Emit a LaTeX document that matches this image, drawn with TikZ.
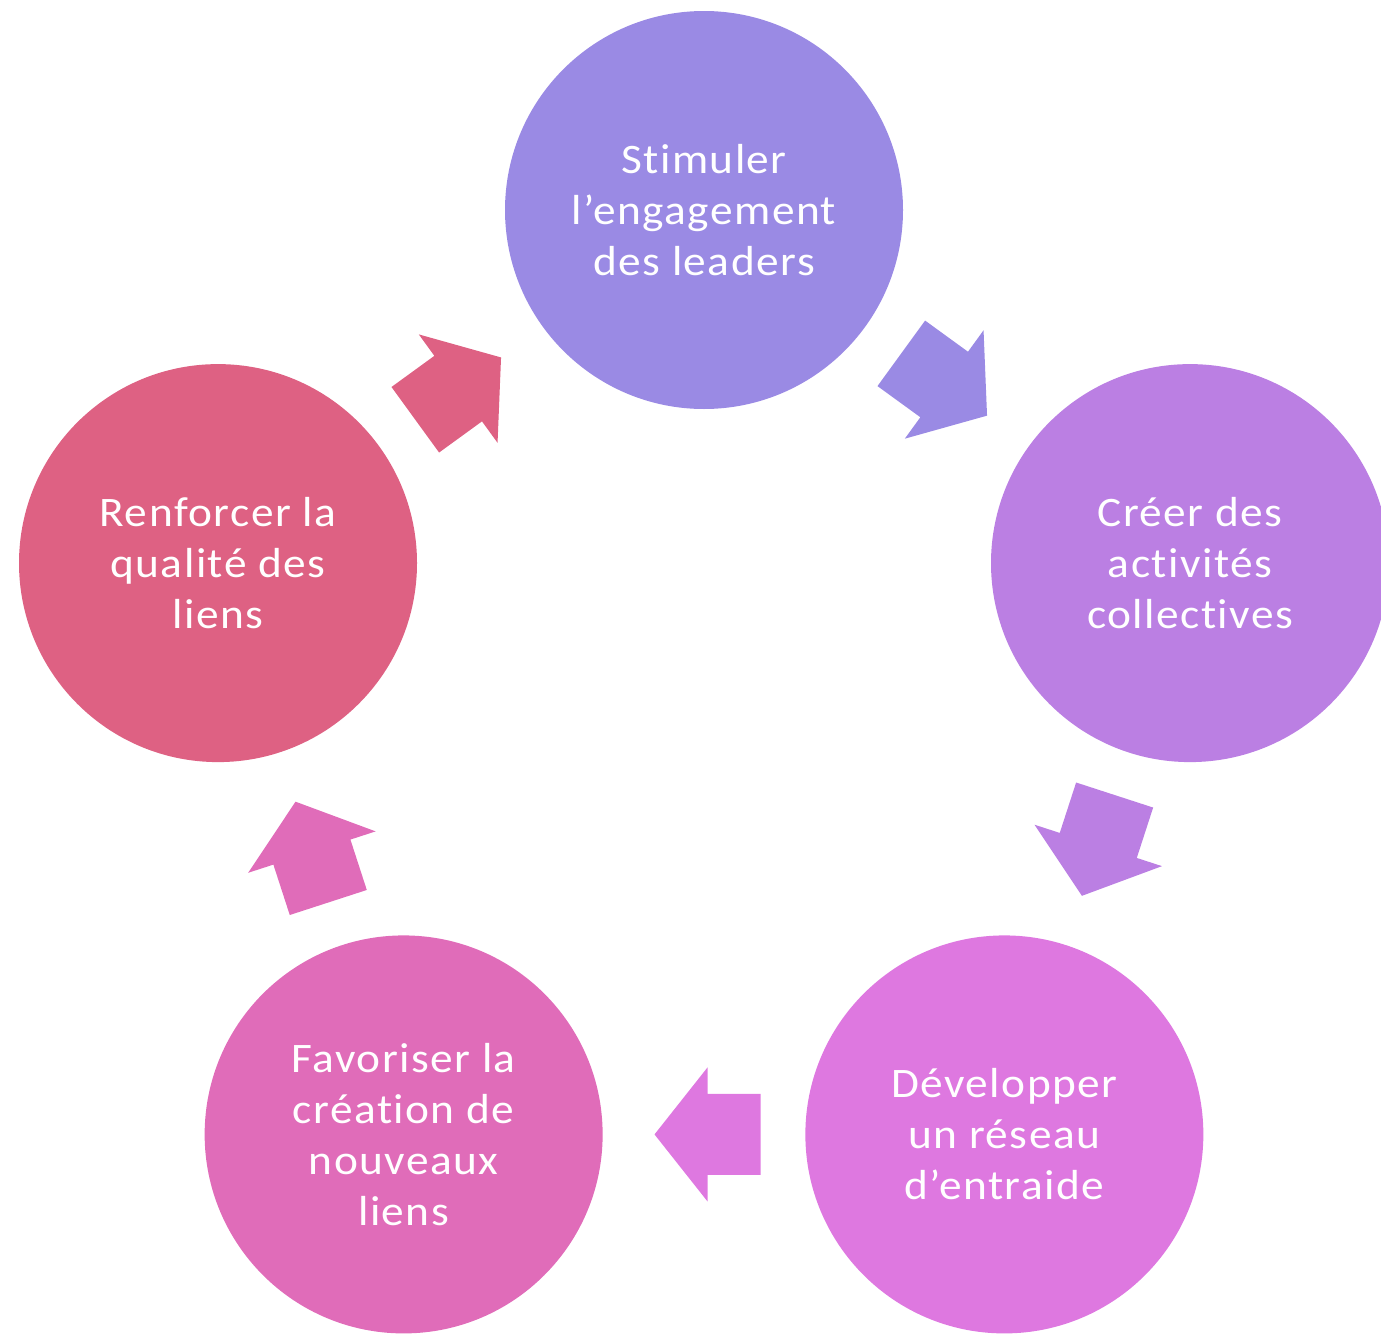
\documentclass[tikz,border=0pt]{standalone}
\usepackage{fontspec}
\setmainfont{Carlito}[Ligatures={NoCommon},LetterSpace=3.5,FakeStretch=1.08]
\usetikzlibrary{positioning,calc}
\definecolor{Lavande}{HTML}{9A8AE4}
\definecolor{Mauve}{HTML}{BB7FE3}
\definecolor{Orchidee}{HTML}{DE78E0}
\definecolor{Fuchsia}{HTML}{E06CB9}
\definecolor{Framboise}{HTML}{DE6183}
\tikzstyle{etape}=[circle,minimum size=398pt,inner sep=0pt,text=white,align=center,font=\fontsize{42}{51}\selectfont]
\tikzset{fleche/.pic={\fill[#1] (-56.5,-40.5) -- (-3.5,-40.5) -- (-3.5,-67) -- (49.5,0) -- (-3.5,67) -- (-3.5,40.5) -- (-56.5,40.5) -- cycle;}}

\begin{document}
\begin{tikzpicture}[x=1pt,y=1pt]
\useasboundingbox (0,0) rectangle (1381,-1333);
\coordinate (O) at (704,-721);
\node[etape,fill=Lavande] (S) at ($(O)+(90:511)$) {Stimuler\\l’engagement\\des leaders};
\node[etape,fill=Mauve] (C) at ($(O)+(18:511)$) {Créer des\\activités\\collectives};
\node[etape,fill=Orchidee] (D) at ($(O)+(-54:511)$) {Développer\\un réseau\\d’entraide};
\node[etape,fill=Fuchsia] (F) at ($(O)+(-126:511)$) {Favoriser la\\création de\\nouveaux\\liens};
\node[etape,fill=Framboise] (R) at ($(O)+(162:511)$) {Renforcer la\\qualité des\\liens};
\path (S) -- pic[pos=.5,sloped,allow upside down]{fleche=Lavande} (C);
\path (C) -- pic[pos=.5,sloped,allow upside down]{fleche=Mauve} (D);
\path (D) -- pic[pos=.5,sloped,allow upside down]{fleche=Orchidee} (F);
\path (F) -- pic[pos=.5,sloped,allow upside down]{fleche=Fuchsia} (R);
\path (R) -- pic[pos=.5,sloped,allow upside down]{fleche=Framboise} (S);
\end{tikzpicture}
\end{document}
